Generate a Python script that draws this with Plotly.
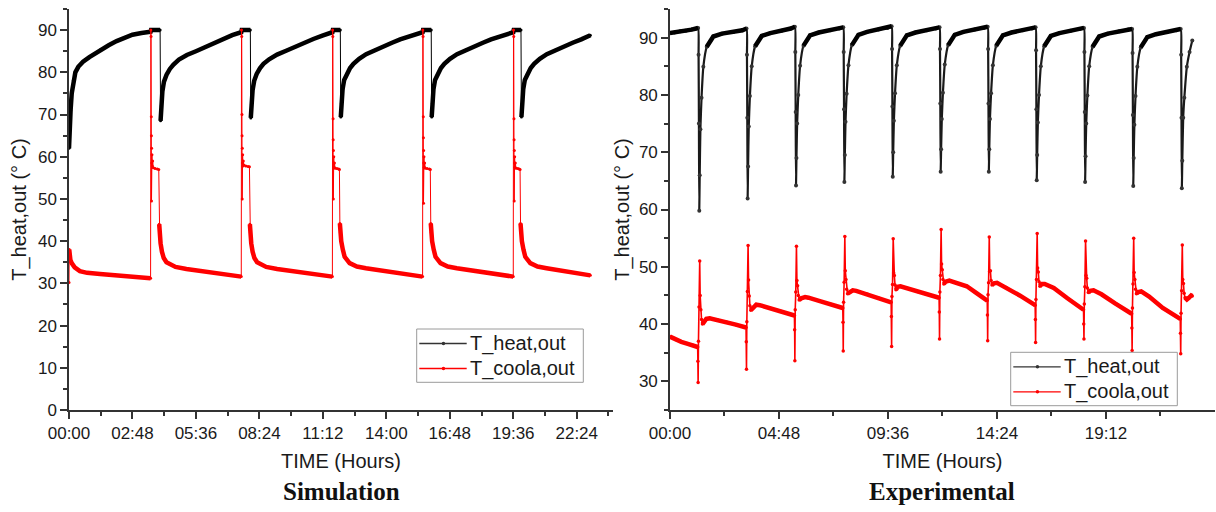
import plotly.graph_objects as go

# ---------------- Simulation data (time in hours) ----------------
sim_heat_t = [0.00, 0.02, 0.07, 0.12, 0.19, 0.28, 0.41, 0.62, 0.90, 1.37, 1.75, 2.10, 2.45, 2.80, 3.20, 3.60, 3.62, 4.02,
              4.04, 4.07, 4.12, 4.19, 4.30, 4.45, 4.60, 4.85, 5.20, 5.60, 6.00, 6.40, 6.80, 7.20, 7.60, 7.62, 8.00,
              8.02, 8.05, 8.10, 8.17, 8.28, 8.43, 8.58, 8.83, 9.18, 9.58, 9.98, 10.38, 10.78, 11.18, 11.62, 11.64, 11.97,
              11.99, 12.02, 12.07, 12.14, 12.25, 12.40, 12.55, 12.80, 13.11, 13.50, 13.87, 14.25, 14.61, 15.00, 15.35, 15.60, 15.62, 15.98,
              16.00, 16.03, 16.08, 16.15, 16.26, 16.41, 16.56, 16.81, 17.12, 17.51, 17.88, 18.26, 18.62, 19.01, 19.36, 19.60, 19.62, 19.94,
              19.96, 19.99, 20.04, 20.11, 20.22, 20.37, 20.52, 20.77, 21.08, 21.47, 21.84, 22.22, 22.60, 23.00]
sim_heat_v = [62.0, 66.0, 71.0, 75.0, 78.0, 80.0, 81.3, 82.5, 83.6, 85.3, 86.4, 87.4, 88.2, 88.9, 89.3, 89.6, 90.0, 90.0,
              68.5, 72.0, 75.5, 77.8, 79.4, 80.8, 81.8, 83.0, 84.1, 85.0, 86.0, 86.9, 87.9, 88.8, 89.5, 90.0, 90.0,
              69.2, 72.4, 75.8, 78.0, 79.6, 81.0, 82.0, 83.1, 84.2, 85.1, 86.1, 87.0, 87.9, 88.7, 89.5, 90.0, 90.0,
              69.4, 72.6, 76.0, 78.2, 79.6, 81.0, 82.0, 83.2, 84.3, 85.3, 86.1, 87.0, 87.8, 88.5, 89.0, 89.5, 90.0, 90.0,
              69.4, 72.6, 76.0, 78.2, 79.6, 81.0, 82.0, 83.2, 84.3, 85.3, 86.1, 87.0, 87.8, 88.5, 89.0, 89.5, 90.0, 90.0,
              69.4, 72.6, 76.0, 78.2, 79.6, 81.0, 82.0, 83.2, 84.3, 85.3, 86.1, 87.0, 87.8, 88.8]

sim_cool_t = [0.01, 0.03, 0.06, 0.12, 0.25, 0.48, 0.80, 1.37, 2.00, 2.80, 3.60,
              3.98, 4.00, 4.04, 4.10, 4.18, 4.30, 4.45, 4.70, 5.18, 5.80, 6.50, 7.10, 7.60,
              7.98, 8.00, 8.04, 8.10, 8.18, 8.30, 8.45, 8.70, 9.18, 9.80, 10.50, 11.10, 11.62,
              11.95, 11.97, 12.01, 12.08, 12.16, 12.38, 12.70, 13.10, 13.85, 14.58, 15.10, 15.60,
              15.96, 15.98, 16.02, 16.09, 16.17, 16.39, 16.71, 17.11, 17.86, 18.59, 19.11, 19.60,
              19.92, 19.94, 19.98, 20.05, 20.13, 20.35, 20.67, 21.07, 21.82, 22.55, 23.00]
sim_cool_v = [38.0, 36.6, 35.6, 34.8, 33.8, 32.9, 32.5, 32.2, 31.9, 31.6, 31.2,
              44.0, 42.0, 39.5, 37.5, 36.0, 35.0, 34.5, 33.9, 33.4, 32.9, 32.4, 32.0, 31.6,
              44.0, 42.0, 39.5, 37.5, 36.0, 35.0, 34.5, 33.9, 33.4, 32.9, 32.4, 32.0, 31.6,
              44.2, 42.0, 40.0, 38.0, 36.3, 34.8, 34.0, 33.6, 33.0, 32.4, 32.0, 31.6,
              44.2, 42.0, 40.0, 38.0, 36.3, 34.8, 34.0, 33.6, 33.0, 32.4, 32.0, 31.6,
              44.2, 42.0, 40.0, 38.0, 36.3, 34.8, 34.0, 33.6, 33.0, 32.3, 31.9]

# switching transients of the coolant outlet (simulation)
sim_cool_tr_t = [0.00,
                 3.61, 3.62, 3.63, 3.635, 3.64, 3.645, 3.65, 3.66, 3.67, 3.69, 3.72, 3.80, 3.90, 3.96,
                 7.61, 7.62, 7.63, 7.635, 7.64, 7.645, 7.65, 7.66, 7.67, 7.69, 7.72, 7.80, 7.90, 7.96,
                 11.63, 11.64, 11.65, 11.655, 11.66, 11.665, 11.67, 11.68, 11.69, 11.71, 11.74, 11.82, 11.90, 11.93,
                 15.61, 15.62, 15.63, 15.635, 15.64, 15.645, 15.65, 15.66, 15.67, 15.69, 15.72, 15.80, 15.90, 15.94,
                 19.61, 19.62, 19.63, 19.635, 19.64, 19.645, 19.65, 19.66, 19.67, 19.69, 19.72, 19.80, 19.86, 19.90]
sim_cool_tr_v = [30.2,
                 90.0, 88.5, 69.5, 65.0, 49.5, 62.0, 58.5, 60.5, 57.8, 59.0, 57.4, 57.2, 57.1, 57.0,
                 90.0, 88.5, 70.0, 65.0, 50.0, 62.0, 58.5, 60.5, 57.8, 59.0, 58.0, 57.8, 57.7, 57.6,
                 90.0, 88.5, 69.0, 64.0, 50.0, 61.5, 58.5, 60.0, 57.5, 58.5, 57.3, 57.2, 57.1, 57.0,
                 90.0, 88.5, 69.5, 64.5, 49.0, 61.5, 58.5, 60.0, 57.5, 58.5, 57.3, 57.2, 57.1, 57.0,
                 90.0, 88.5, 69.0, 64.0, 49.5, 61.5, 58.5, 60.0, 57.5, 58.5, 57.3, 57.2, 57.1, 57.0]

# ---------------- Experimental data (time in hours) ----------------
exp_heat_t = [0.00, 0.20, 0.45, 0.70, 0.95, 1.15, 1.24, 1.26, 1.275, 1.29,
              1.31, 1.34, 1.39, 1.47, 1.62, 1.91, 2.29, 2.79, 3.19, 3.37, 3.39, 3.405, 3.42,
              3.44, 3.47, 3.52, 3.60, 3.75, 4.04, 4.42, 4.92, 5.32, 5.50, 5.52, 5.535, 5.55,
              5.57, 5.60, 5.65, 5.73, 5.88, 6.17, 6.55, 7.05, 7.45, 7.63, 7.65, 7.665, 7.68,
              7.70, 7.73, 7.78, 7.86, 8.01, 8.30, 8.68, 9.18, 9.58, 9.76, 9.78, 9.795, 9.81,
              9.83, 9.86, 9.91, 9.99, 10.14, 10.43, 10.81, 11.31, 11.71, 11.87, 11.89, 11.905, 11.92,
              11.94, 11.97, 12.02, 12.10, 12.25, 12.54, 12.92, 13.42, 13.82, 13.99, 14.01, 14.025, 14.04,
              14.06, 14.09, 14.14, 14.22, 14.37, 14.66, 15.04, 15.54, 15.94, 16.10, 16.12, 16.135, 16.15,
              16.17, 16.20, 16.25, 16.33, 16.48, 16.77, 17.15, 17.65, 18.05, 18.23, 18.25, 18.265, 18.28,
              18.30, 18.33, 18.38, 18.46, 18.61, 18.90, 19.28, 19.78, 20.18, 20.35, 20.37, 20.385, 20.40,
              20.42, 20.45, 20.50, 20.58, 20.73, 21.02, 21.40, 21.90, 22.30, 22.49, 22.51, 22.525, 22.54,
              22.56, 22.60, 22.65, 22.76, 22.88, 23.00]
exp_heat_v = [90.8, 90.9, 91.1, 91.2, 91.4, 91.6, 91.7, 87.0, 75.0, 59.8,
              66.0, 74.0, 79.5, 84.9, 88.4, 90.2, 90.7, 91.0, 91.3, 91.6, 87.0, 76.0, 61.9,
              67.5, 74.5, 79.8, 85.0, 88.5, 90.3, 90.8, 91.2, 91.6, 91.9, 87.5, 77.0, 64.2,
              69.0, 75.0, 80.0, 85.1, 88.6, 90.4, 90.9, 91.3, 91.6, 91.8, 87.5, 77.5, 64.8,
              69.5, 75.3, 80.2, 85.2, 88.7, 90.5, 91.0, 91.4, 91.7, 92.0, 88.0, 78.0, 65.7,
              70.0, 75.5, 80.3, 85.2, 88.6, 90.4, 90.9, 91.3, 91.6, 91.8, 88.0, 78.5, 66.6,
              70.5, 75.8, 80.4, 85.3, 88.7, 90.5, 91.0, 91.4, 91.7, 91.9, 88.0, 78.5, 66.6,
              70.5, 75.8, 80.3, 85.2, 88.6, 90.4, 90.9, 91.3, 91.6, 91.8, 87.8, 77.5, 65.1,
              69.5, 75.2, 80.0, 85.0, 88.5, 90.3, 90.8, 91.2, 91.5, 91.7, 87.5, 77.0, 64.8,
              69.3, 75.0, 79.9, 85.0, 88.4, 90.2, 90.7, 91.1, 91.4, 91.5, 87.3, 76.5, 64.1,
              69.0, 74.8, 79.8, 84.9, 88.3, 90.1, 90.6, 91.0, 91.3, 91.5, 87.0, 76.0, 63.7,
              68.5, 76.0, 79.5, 84.9, 87.5, 89.5]

exp_cool_t = [0.00, 0.25, 0.50, 0.75, 1.00, 1.22,
              1.43, 1.50, 1.60, 1.75, 2.10, 2.50, 2.90, 3.35,
              3.56, 3.65, 3.80, 3.95, 4.40, 4.90, 5.48,
              5.69, 5.78, 5.95, 6.10, 6.60, 7.10, 7.61,
              7.82, 7.92, 8.05, 8.20, 8.70, 9.20, 9.74,
              9.95, 10.03, 10.15, 10.40, 10.90, 11.40, 11.85,
              12.06, 12.14, 12.30, 12.60, 13.07, 13.50, 13.97,
              14.18, 14.26, 14.40, 14.80, 15.40, 16.08,
              16.29, 16.37, 16.50, 16.90, 17.50, 18.21,
              18.42, 18.50, 18.65, 19.00, 19.60, 20.33,
              20.54, 20.62, 20.75, 21.10, 21.70, 22.47,
              22.68, 22.76, 22.85, 22.95, 23.00]
exp_cool_v = [37.8, 37.3, 36.9, 36.6, 36.3, 36.0,
              40.0, 40.4, 40.9, 41.0, 40.7, 40.3, 39.9, 39.4,
              42.4, 42.9, 43.4, 43.3, 42.8, 42.2, 41.5,
              44.2, 44.5, 44.7, 44.6, 44.0, 43.4, 42.8,
              45.3, 45.6, 45.9, 45.8, 45.2, 44.5, 43.8,
              46.0, 46.5, 46.6, 46.3, 45.7, 45.1, 44.6,
              47.0, 47.4, 47.6, 47.2, 46.6, 45.4, 44.1,
              46.8, 47.1, 47.2, 46.4, 45.0, 43.3,
              46.6, 47.0, 47.0, 46.3, 44.5, 42.5,
              45.5, 45.8, 45.9, 45.2, 43.6, 41.8,
              45.3, 45.6, 45.7, 44.8, 42.8, 40.9,
              44.6, 44.3, 44.6, 45.0, 44.9]

# switching spikes of the coolant outlet (experiment)
exp_spk_t = [1.23, 1.24, 1.255, 1.28, 1.31, 1.33, 1.36, 1.39,
             3.36, 3.37, 3.385, 3.41, 3.44, 3.46, 3.49, 3.52,
             5.49, 5.50, 5.515, 5.54, 5.57, 5.59, 5.62, 5.65,
             7.62, 7.63, 7.645, 7.67, 7.70, 7.72, 7.75, 7.78,
             9.75, 9.76, 9.775, 9.80, 9.83, 9.85, 9.88, 9.91,
             11.86, 11.87, 11.885, 11.91, 11.94, 11.96, 11.99, 12.02,
             13.98, 13.99, 14.005, 14.03, 14.06, 14.08, 14.11, 14.14,
             16.09, 16.10, 16.115, 16.14, 16.17, 16.19, 16.22, 16.25,
             18.22, 18.23, 18.245, 18.27, 18.30, 18.32, 18.35, 18.38,
             20.34, 20.35, 20.365, 20.39, 20.42, 20.44, 20.47, 20.50,
             22.48, 22.49, 22.505, 22.53, 22.56, 22.58, 22.61, 22.64]
exp_spk_v = [33.5, 29.8, 37.0, 43.0, 51.0, 45.0, 42.5, 40.8,
             36.9, 32.1, 40.4, 45.7, 53.7, 47.7, 44.9, 43.2,
             39.0, 33.6, 42.5, 45.6, 53.6, 47.6, 46.7, 45.0,
             40.3, 35.3, 43.8, 47.3, 55.3, 49.3, 47.8, 46.1,
             41.3, 36.1, 44.8, 46.9, 54.9, 48.9, 48.5, 46.8,
             42.1, 37.4, 45.6, 48.5, 56.5, 50.5, 49.5, 47.8,
             41.6, 37.1, 45.1, 47.2, 55.2, 49.2, 49.3, 47.6,
             40.8, 36.8, 44.3, 47.8, 55.8, 49.8, 49.1, 47.4,
             40.0, 37.4, 43.5, 46.5, 54.5, 48.5, 48.0, 46.3,
             39.3, 35.4, 42.8, 47.0, 55.0, 49.0, 47.8, 46.1,
             38.4, 34.8, 41.9, 45.8, 53.8, 47.8, 47.1, 45.4]

# ---------------- Axis ticks / labels ----------------
sim_tick_vals = [0, 2.8, 5.6, 8.4, 11.2, 14.0, 16.8, 19.6, 22.4]
sim_tick_text = ["00:00", "02:48", "05:36", "08:24", "11:12", "14:00", "16:48", "19:36", "22:24"]
sim_minor_vals = [1.4, 4.2, 7.0, 9.8, 12.6, 15.4, 18.2, 21.0, 23.8]
exp_tick_vals = [0, 4.8, 9.6, 14.4, 19.2]
exp_tick_text = ["00:00", "04:48", "09:36", "14:24", "19:12"]
exp_minor_vals = [2.4, 7.2, 12.0, 16.8, 21.6]

series_names = ["T_heat,out", "T_coola,out"]
panel_titles = ["Simulation", "Experimental"]

for a, b in [(sim_heat_t, sim_heat_v), (sim_cool_t, sim_cool_v), (sim_cool_tr_t, sim_cool_tr_v),
             (exp_heat_t, exp_heat_v), (exp_cool_t, exp_cool_v), (exp_spk_t, exp_spk_v)]:
    assert len(a) == len(b)


def split_on(t, v, is_break):
    xs, ys = [], []
    for i in range(len(t)):
        if i > 0 and is_break(v[i - 1], v[i]):
            xs.append(None)
            ys.append(None)
        xs.append(t[i])
        ys.append(v[i])
    return xs, ys


def merged(t1, v1, t2, v2):
    pts = sorted(zip(t1 + t2, v1 + v2))
    return [p[0] for p in pts], [p[1] for p in pts]


BLACK = "#000000"
RED = "#ff0000"
FONT = "Liberation Sans, Arial, sans-serif"
SERIF = "Liberation Serif, Times New Roman, serif"
TXT = "#1a1a1a"

fig = go.Figure()

# --- Simulation panel ---
fig.add_trace(go.Scatter(x=sim_heat_t, y=sim_heat_v, mode="lines+markers", name=series_names[0],
                         line=dict(color=BLACK, width=1), marker=dict(size=3, color=BLACK),
                         xaxis="x", yaxis="y", showlegend=False))
hx, hy = split_on(sim_heat_t, sim_heat_v, lambda p, c: c < p - 10)
fig.add_trace(go.Scatter(x=hx, y=hy, mode="lines", showlegend=False, hoverinfo="skip",
                         line=dict(color=BLACK, width=4.5), xaxis="x", yaxis="y"))
cx, cy = merged(sim_cool_t, sim_cool_v, sim_cool_tr_t, sim_cool_tr_v)
fig.add_trace(go.Scatter(x=cx, y=cy, mode="lines+markers", name=series_names[1],
                         line=dict(color=RED, width=1), marker=dict(size=3, color=RED),
                         xaxis="x", yaxis="y", showlegend=False))
ctx, cty = split_on(sim_cool_t, sim_cool_v, lambda p, c: c > p + 5)
fig.add_trace(go.Scatter(x=ctx, y=cty, mode="lines", showlegend=False, hoverinfo="skip",
                         line=dict(color=RED, width=4.5), xaxis="x", yaxis="y"))

# --- Experimental panel ---
fig.add_trace(go.Scatter(x=exp_heat_t, y=exp_heat_v, mode="lines+markers", name=series_names[0],
                         line=dict(color="#1a1a1a", width=2.2, shape="spline", smoothing=0.5),
                         marker=dict(size=4, color="#333333"),
                         xaxis="x2", yaxis="y2", showlegend=False))
fig.add_trace(go.Scatter(x=exp_heat_t, y=[y if y >= 88.3 else None for y in exp_heat_v], mode="lines",
                         showlegend=False, hoverinfo="skip", line=dict(color=BLACK, width=4.5),
                         xaxis="x2", yaxis="y2"))
ex, ey = merged(exp_cool_t, exp_cool_v, exp_spk_t, exp_spk_v)
fig.add_trace(go.Scatter(x=ex, y=ey, mode="lines+markers", name=series_names[1],
                         line=dict(color=RED, width=1.6), marker=dict(size=3.5, color=RED),
                         xaxis="x2", yaxis="y2", showlegend=False))
etx, ety = split_on(exp_cool_t, exp_cool_v, lambda p, c: c > p + 2)
fig.add_trace(go.Scatter(x=etx, y=ety, mode="lines", showlegend=False, hoverinfo="skip",
                         line=dict(color=RED, width=4.5), xaxis="x2", yaxis="y2"))

axis_style = dict(showline=True, linecolor="#333333", linewidth=1.5, ticks="outside", ticklen=7,
                  tickwidth=1.5, tickcolor="#333333", showgrid=False, zeroline=False, mirror=False,
                  tickfont=dict(family=FONT, size=17, color=TXT))
title_font = dict(family=FONT, size=20, color=TXT)
minor_y = dict(dtick=5, ticks="outside", ticklen=4, tickwidth=1.5, tickcolor="#333333")

# ---- framed legends (drawn in pixel layout of the 1216x512 page) ----
ML, MT, PW, PH = 69, 9, 1146, 401


def pxx(x):
    return (x - ML) / PW


def pyy(y):
    return (MT + PH - y) / PH


legend_boxes = [(416.7, 329.0, 583.3, 382.3), (1010.7, 352.3, 1177.3, 405.7)]
legend_colors = ["#333333", RED]
shapes, annotations = [], []
for (x0, y0, x1, y1) in legend_boxes:
    shapes.append(dict(type="rect", xref="paper", yref="paper", x0=pxx(x0), x1=pxx(x1), y0=pyy(y1), y1=pyy(y0),
                       line=dict(color="#9a9a9a", width=1), fillcolor="white", layer="above"))
    for k, (name, col) in enumerate(zip(series_names, legend_colors)):
        ry = y0 + 14.5 + 25.0 * k
        shapes.append(dict(type="line", xref="paper", yref="paper", x0=pxx(x0 + 2.6), x1=pxx(x0 + 50),
                           y0=pyy(ry), y1=pyy(ry), line=dict(color=col, width=1.3), layer="above"))
        shapes.append(dict(type="circle", xref="paper", yref="paper", x0=pxx(x0 + 25), x1=pxx(x0 + 28.5),
                           y0=pyy(ry + 1.75), y1=pyy(ry - 1.75), line=dict(color=col, width=0),
                           fillcolor=col, layer="above"))
        annotations.append(dict(text=name, xref="paper", yref="paper", x=pxx(x0 + 51.5), y=pyy(ry),
                                xanchor="left", yanchor="middle", showarrow=False,
                                font=dict(family=FONT, size=20, color=TXT)))

for title, xc in zip(panel_titles, [0.2374, 0.7622]):
    annotations.append(dict(text=title, x=xc, y=pyy(492), xref="paper", yref="paper", showarrow=False,
                            xanchor="center", yanchor="middle",
                            font=dict(family=SERIF, size=25, color="#111111", weight="bold")))

fig.update_layout(
    width=1216, height=512,
    margin=dict(l=ML, r=1, t=MT, b=102),
    paper_bgcolor="white", plot_bgcolor="white",
    font=dict(family=FONT, color=TXT),
    showlegend=False,
    xaxis=dict(domain=[0, 0.4747], range=[0, 24], anchor="y", tickmode="array",
               tickvals=sim_tick_vals, ticktext=sim_tick_text,
               minor=dict(tickmode="array", tickvals=sim_minor_vals, ticks="outside", ticklen=4,
                          tickwidth=1.5, tickcolor="#333333"),
               title=dict(text="TIME (Hours)", font=title_font, standoff=12), **axis_style),
    yaxis=dict(domain=[0, 1], range=[0, 95], anchor="x", tick0=0, dtick=10, minor=minor_y,
               title=dict(text="T_heat,out (° C)", font=title_font, standoff=6), **axis_style),
    xaxis2=dict(domain=[0.5244, 1], range=[0, 24], anchor="y2", tickmode="array",
                tickvals=exp_tick_vals, ticktext=exp_tick_text,
                minor=dict(tickmode="array", tickvals=exp_minor_vals, ticks="outside", ticklen=4,
                           tickwidth=1.5, tickcolor="#333333"),
                title=dict(text="TIME (Hours)", font=title_font, standoff=12), **axis_style),
    yaxis2=dict(domain=[0, 1], range=[25, 95], anchor="x2", tick0=0, dtick=10, minor=minor_y,
                title=dict(text="T_heat,out (° C)", font=title_font, standoff=4), **axis_style),
    shapes=shapes,
    annotations=annotations,
)

fig.write_html("out.html")
